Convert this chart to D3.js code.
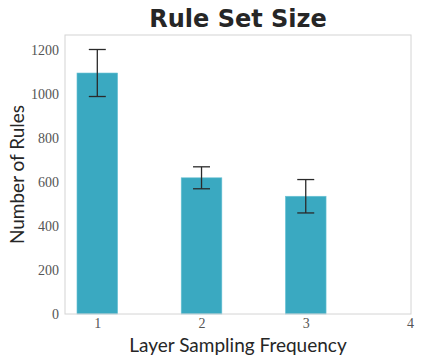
<!DOCTYPE html>
<html>
<head>
<meta charset="utf-8">
<script src="https://cdn.jsdelivr.net/npm/d3@7"></script>
<style>
  body { margin: 0; background: white; }
</style>
</head>
<body>
<div id="chart"></div>
<script>
// rule set size by layer sampling frequency
const frequencies = [1, 2, 3];
const ruleCounts = [1097, 620, 536];
const ruleErrors = [107, 50, 76];
const xTicks = [1, 2, 3, 4];
const yTicks = [0, 200, 400, 600, 800, 1000, 1200];

const width = 423, height = 363;
const margin = { top: 35, right: 12, bottom: 49, left: 65 };

const svg = d3.select("#chart")
    .append("svg")
    .attr("width", width)
    .attr("height", height);

const x = d3.scaleLinear()
    .domain([0.69, 4.01])
    .range([margin.left, width - margin.right]);

const y = d3.scaleLinear()
    .domain([0, 1270])
    .range([height - margin.bottom, margin.top]);

const barWidth = 0.39;
const barColor = "#3aa9c1";

// Bars
svg.selectAll("rect.bar")
    .data(frequencies)
    .enter()
    .append("rect")
    .attr("class", "bar")
    .attr("x", d => x(d - barWidth / 2))
    .attr("width", d => x(d + barWidth / 2) - x(d - barWidth / 2))
    .attr("y", (d, i) => y(ruleCounts[i]))
    .attr("height", (d, i) => y(0) - y(ruleCounts[i]))
    .attr("fill", barColor)
    .attr("stroke", "#6cc3d5")
    .attr("stroke-width", 0.6);

// Frame
svg.append("rect")
    .attr("x", margin.left)
    .attr("y", margin.top)
    .attr("width", width - margin.right - margin.left)
    .attr("height", height - margin.bottom - margin.top)
    .attr("fill", "none")
    .attr("stroke", "#d4d4d4")
    .attr("stroke-width", 1);

// Error bars
const err = svg.append("g")
    .attr("stroke", "#2a2a2a")
    .attr("stroke-width", 1.3);

frequencies.forEach((f, i) => {
    const top = y(ruleCounts[i] + ruleErrors[i]);
    const bot = y(ruleCounts[i] - ruleErrors[i]);
    err.append("line")
        .attr("x1", x(f)).attr("x2", x(f))
        .attr("y1", top).attr("y2", bot);
    err.append("line")
        .attr("x1", x(f) - 8.5).attr("x2", x(f) + 8.5)
        .attr("y1", top).attr("y2", top);
    err.append("line")
        .attr("x1", x(f) - 8.5).attr("x2", x(f) + 8.5)
        .attr("y1", bot).attr("y2", bot);
});

// X Axis
const xAxis = svg.append("g")
    .attr("transform", `translate(0, ${height - margin.bottom})`)
    .call(d3.axisBottom(x).tickValues(xTicks).tickSize(0).tickPadding(4).tickFormat(d3.format("d")));
xAxis.select(".domain").remove();
xAxis.selectAll("text")
    .attr("font-family", "'Liberation Serif', 'DejaVu Serif', serif")
    .attr("font-size", "14px")
    .attr("fill", "#555");

// Y Axis
const yAxis = svg.append("g")
    .attr("transform", `translate(${margin.left}, 0)`)
    .call(d3.axisLeft(y).tickValues(yTicks).tickSize(0).tickPadding(6).tickFormat(d3.format("d")));
yAxis.select(".domain").remove();
yAxis.selectAll("text")
    .attr("font-family", "'Liberation Serif', 'DejaVu Serif', serif")
    .attr("font-size", "14px")
    .attr("fill", "#555");

// Title
svg.append("text")
    .attr("x", (margin.left + width - margin.right) / 2)
    .attr("y", 27)
    .attr("text-anchor", "middle")
    .attr("font-family", "'DejaVu Sans', sans-serif")
    .attr("font-weight", "bold")
    .attr("font-size", "24px")
    .attr("fill", "#262626")
    .text("Rule Set Size");

// X Axis Title
svg.append("text")
    .attr("x", (margin.left + width - margin.right) / 2)
    .attr("y", 352)
    .attr("text-anchor", "middle")
    .attr("font-family", "Lato, 'Open Sans', sans-serif")
    .attr("font-size", "19px")
    .attr("fill", "#262626")
    .text("Layer Sampling Frequency");

// Y Axis Title
svg.append("text")
    .attr("transform", "rotate(-90)")
    .attr("x", -(margin.top + height - margin.bottom) / 2)
    .attr("y", 24)
    .attr("text-anchor", "middle")
    .attr("font-family", "Lato, 'Open Sans', sans-serif")
    .attr("font-size", "19px")
    .attr("fill", "#262626")
    .text("Number of Rules");
</script>
</body>
</html>
